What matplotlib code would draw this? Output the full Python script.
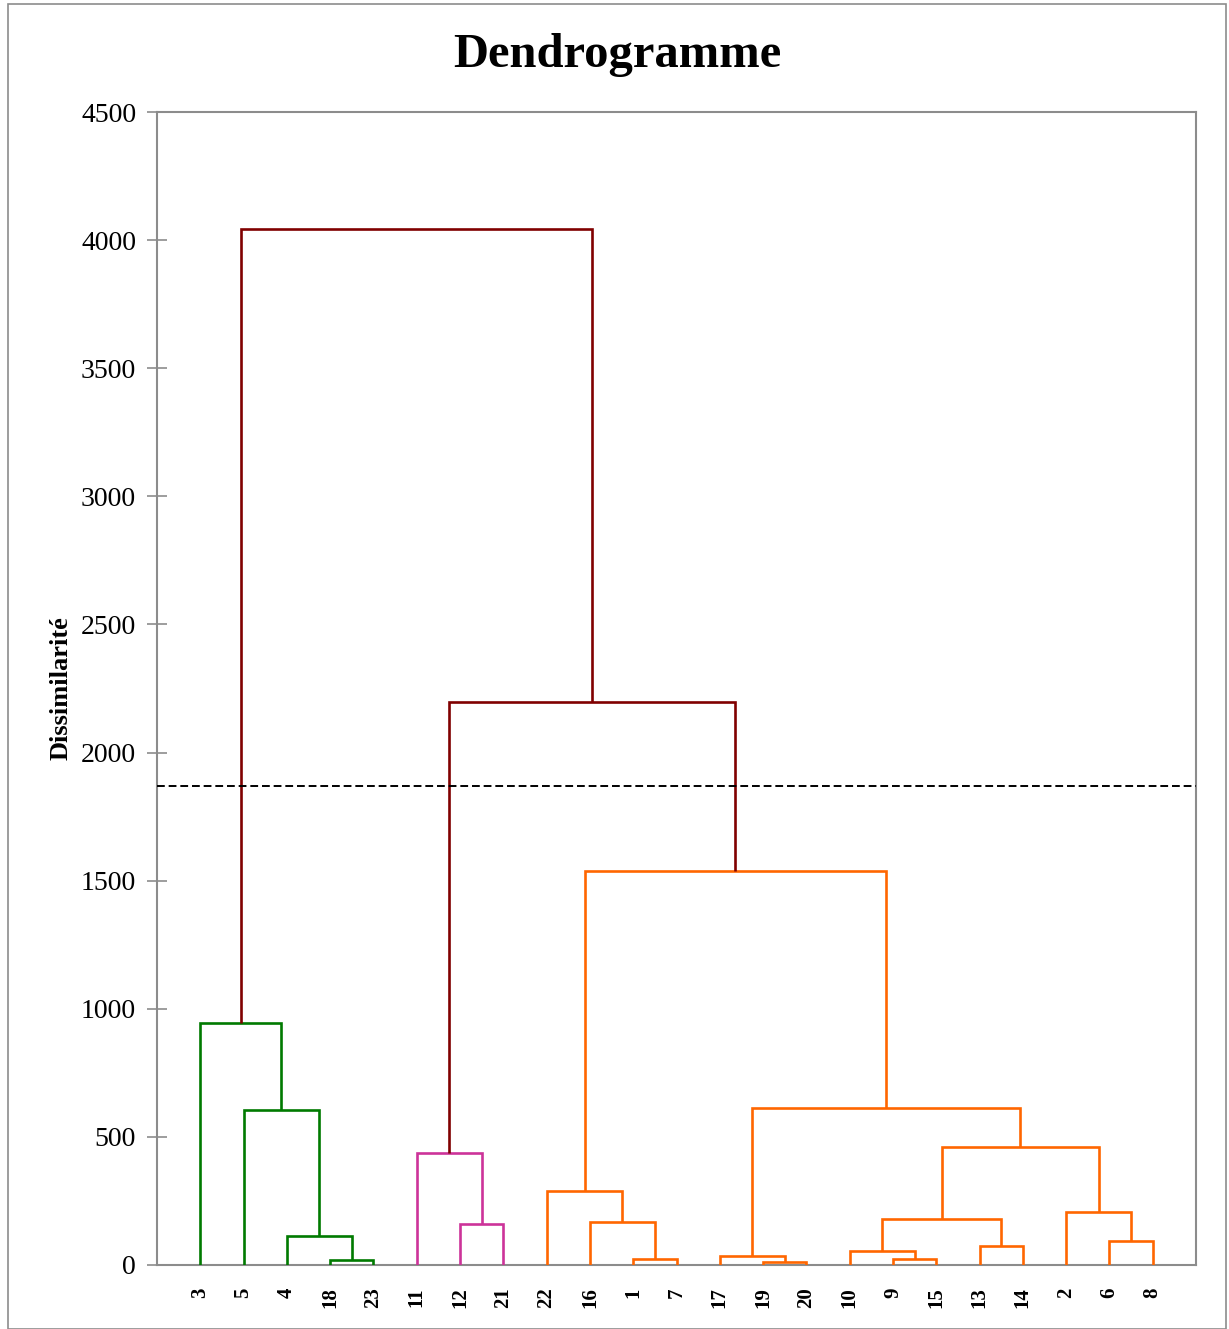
import matplotlib
matplotlib.use("Agg")
import matplotlib.pyplot as plt
from matplotlib.patches import Rectangle

# ---- data ----
leaf_labels = ["3", "5", "4", "18", "23", "11", "12", "21", "22", "16", "1", "7",
               "17", "19", "20", "10", "9", "15", "13", "14", "2", "6", "8"]
leaf_cluster = [0, 0, 0, 0, 0, 1, 1, 1, 2, 2, 2, 2,
                2, 2, 2, 2, 2, 2, 2, 2, 2, 2, 2]
cluster_colors = ["#007A00", "#CC3399", "#FF6600"]
mixed_color = "#800000"

# merges: (left node, right node, height); nodes are leaf labels or "M<k>" for merge k
merges = [
    ("18", "23", 20),       # M0
    ("4", "M0", 113),       # M1
    ("5", "M1", 605),       # M2
    ("3", "M2", 945),       # M3
    ("12", "21", 160),      # M4
    ("11", "M4", 437),      # M5
    ("1", "7", 23),         # M6
    ("16", "M6", 168),      # M7
    ("22", "M7", 289),      # M8
    ("19", "20", 12),       # M9
    ("17", "M9", 35),       # M10
    ("9", "15", 23),        # M11
    ("10", "M11", 55),      # M12
    ("13", "14", 74),       # M13
    ("M12", "M13", 180),    # M14
    ("6", "8", 94),         # M15
    ("2", "M15", 207),      # M16
    ("M14", "M16", 461),    # M17
    ("M10", "M17", 613),    # M18
    ("M8", "M18", 1538),    # M19
    ("M5", "M19", 2197),    # M20
    ("M3", "M20", 4044),    # M21
]
cut_height = 1870

yticks = [0, 500, 1000, 1500, 2000, 2500, 3000, 3500, 4000, 4500]

# ---- figure ----
W, H = 1229, 1329
fig = plt.figure(figsize=(W / 100, H / 100), dpi=100)
fig.patches.append(Rectangle((8 / W, 0), (1226 - 8) / W, 1 - 4 / H,
                             transform=fig.transFigure, fill=False,
                             edgecolor="#8c8c8c", linewidth=1.2))

ax = fig.add_axes([157 / W, 1 - 1265 / H, (1196 - 157) / W, (1265 - 112) / H])

serif = ["Liberation Serif", "DejaVu Serif"]

# positions / heights / clusters of nodes
pos = {lab: i + 1 for i, lab in enumerate(leaf_labels)}
hgt = {lab: 0.0 for lab in leaf_labels}
clus = {lab: {leaf_cluster[i]} for i, lab in enumerate(leaf_labels)}

lw = 1.9
for k, (a, b, h) in enumerate(merges):
    name = f"M{k}"
    cl = clus[a] | clus[b]
    color = cluster_colors[next(iter(cl))] if len(cl) == 1 else mixed_color
    xa, xb = pos[a], pos[b]
    ax.plot([xa, xa, xb, xb], [hgt[a], h, h, hgt[b]], color=color, lw=lw,
            solid_joinstyle="miter", solid_capstyle="butt", zorder=3)
    pos[name] = (xa + xb) / 2
    hgt[name] = h
    clus[name] = cl

ax.axhline(cut_height, color="black", lw=1.4, ls=(0, (4, 2)), zorder=4)

ax.set_xlim(0, len(leaf_labels) + 1)
ax.set_ylim(0, 4500)
ax.set_yticks(yticks)
ax.set_yticklabels([str(v) for v in yticks], fontfamily=serif, fontsize=20)
ax.set_xticks(range(1, len(leaf_labels) + 1))
ax.set_xticklabels(leaf_labels, rotation=90, fontfamily=serif, fontsize=15,
                   fontweight="bold")
ax.tick_params(axis="x", length=0, pad=16)
ax.tick_params(axis="y", direction="inout", length=14, width=1.2, color="#8c8c8c", pad=8)
for s in ax.spines.values():
    s.set_color("#8c8c8c")
    s.set_linewidth(1.5)

ax.set_ylabel("Dissimilarité", fontfamily=serif, fontsize=19, fontweight="bold",
              labelpad=6)

fig.text(617 / W, 1 - 55 / H, "Dendrogramme", ha="center", va="center",
         fontfamily=serif, fontsize=35, fontweight="bold")

fig.savefig("out.png", dpi=100)
